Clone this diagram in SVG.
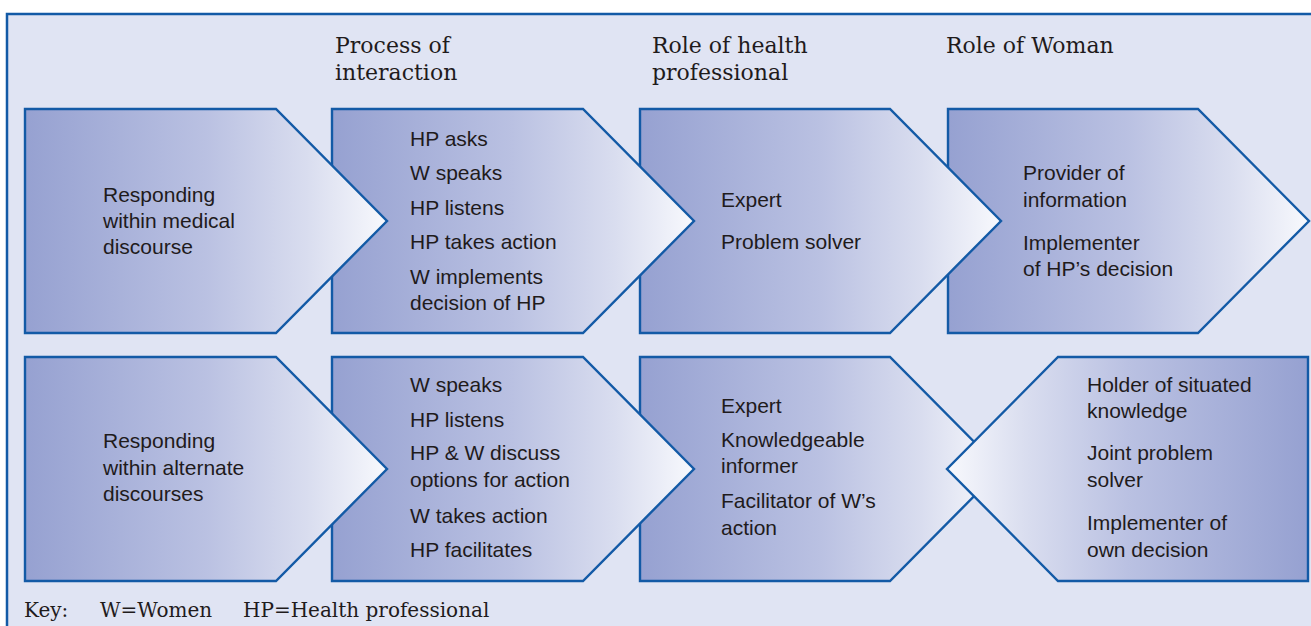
<svg xmlns="http://www.w3.org/2000/svg" width="1311" height="626" viewBox="0 0 1311 626">
  <defs>
    <!-- fill of the forward-pointing chevrons: dark on the left, pale at the tip -->
    <linearGradient id="fadeRight" x1="0" y1="0" x2="1" y2="0">
      <stop offset="0" stop-color="#96a1d1"/>
      <stop offset="0.5" stop-color="#bac1e2"/>
      <stop offset="0.78" stop-color="#d9ddef"/>
      <stop offset="1" stop-color="#f8f9fd"/>
    </linearGradient>
    <!-- fill of the backward-pointing chevron: pale at the tip, dark on the right -->
    <linearGradient id="fadeLeft" x1="1" y1="0" x2="0" y2="0">
      <stop offset="0" stop-color="#96a1d1"/>
      <stop offset="0.5" stop-color="#bac1e2"/>
      <stop offset="0.78" stop-color="#d9ddef"/>
      <stop offset="1" stop-color="#f8f9fd"/>
    </linearGradient>
    <style>
      .frame { fill: #e0e4f3; stroke: #135aa6; stroke-width: 2.5; }
      .fwd { fill: url(#fadeRight); stroke: #135aa6; stroke-width: 2.4; stroke-linejoin: miter; }
      .back { fill: url(#fadeLeft); stroke: #135aa6; stroke-width: 2.4; stroke-linejoin: miter; }
      .body { font-family: "Liberation Sans", Arial, sans-serif; font-size: 21px; fill: #1f1b1c; }
      .head { font-family: "DejaVu Serif", "Liberation Serif", serif; font-size: 22px; fill: #1f1b1c; }
      .key { font-family: "DejaVu Serif", "Liberation Serif", serif; font-size: 20px; fill: #1f1b1c; }
    </style>
  </defs>

  <rect width="1311" height="626" fill="#ffffff"/>
  <rect class="frame" x="7" y="14" width="1330" height="640"/>

  <!-- column headings -->
  <g id="headings">
    <text class="head" x="335" y="53">Process of</text>
    <text class="head" x="335" y="80">interaction</text>
    <text class="head" x="652" y="53">Role of health</text>
    <text class="head" x="652" y="80">professional</text>
    <text class="head" x="946" y="53">Role of Woman</text>
  </g>

  <!-- top row, painted right to left so each tip lies over its neighbour -->
  <g id="medical-woman-role">
    <path class="fwd" d="M948,109 H1198 L1309,221 L1198,333 H948 Z"/>
    <text class="body" x="1023" y="180">Provider of</text>
    <text class="body" x="1023" y="207">information</text>
    <text class="body" x="1023" y="250">Implementer</text>
    <text class="body" x="1023" y="276">of HP’s decision</text>
  </g>
  <g id="medical-hp-role">
    <path class="fwd" d="M640,109 H890 L1001,221 L890,333 H640 Z"/>
    <text class="body" x="721" y="207">Expert</text>
    <text class="body" x="721" y="249">Problem solver</text>
  </g>
  <g id="medical-process">
    <path class="fwd" d="M332,109 H583 L694,221 L583,333 H332 Z"/>
    <text class="body" x="410" y="146">HP asks</text>
    <text class="body" x="410" y="180">W speaks</text>
    <text class="body" x="410" y="215">HP listens</text>
    <text class="body" x="410" y="249">HP takes action</text>
    <text class="body" x="410" y="284">W implements</text>
    <text class="body" x="410" y="310">decision of HP</text>
  </g>
  <g id="medical-discourse">
    <path class="fwd" d="M25,109 H276 L387,221 L276,333 H25 Z"/>
    <text class="body" x="103" y="202">Responding</text>
    <text class="body" x="103" y="228">within medical</text>
    <text class="body" x="103" y="254">discourse</text>
  </g>

  <!-- bottom row -->
  <g id="alternate-hp-role">
    <path class="fwd" d="M640,357 H890 L1001,469 L890,581 H640 Z"/>
    <text class="body" x="721" y="413">Expert</text>
    <text class="body" x="721" y="447">Knowledgeable</text>
    <text class="body" x="721" y="473">informer</text>
    <text class="body" x="721" y="508">Facilitator of W’s</text>
    <text class="body" x="721" y="535">action</text>
  </g>
  <g id="alternate-woman-role">
    <path class="back" d="M1308,357 H1058 L947,469 L1058,581 H1308 Z"/>
    <text class="body" x="1087" y="392">Holder of situated</text>
    <text class="body" x="1087" y="418">knowledge</text>
    <text class="body" x="1087" y="460">Joint problem</text>
    <text class="body" x="1087" y="487">solver</text>
    <text class="body" x="1087" y="530">Implementer of</text>
    <text class="body" x="1087" y="557">own decision</text>
  </g>
  <g id="alternate-process">
    <path class="fwd" d="M332,357 H583 L694,469 L583,581 H332 Z"/>
    <text class="body" x="410" y="392">W speaks</text>
    <text class="body" x="410" y="427">HP listens</text>
    <text class="body" x="410" y="460">HP &amp; W discuss</text>
    <text class="body" x="410" y="487">options for action</text>
    <text class="body" x="410" y="523">W takes action</text>
    <text class="body" x="410" y="557">HP facilitates</text>
  </g>
  <g id="alternate-discourse">
    <path class="fwd" d="M25,357 H276 L387,469 L276,581 H25 Z"/>
    <text class="body" x="103" y="448">Responding</text>
    <text class="body" x="103" y="475">within alternate</text>
    <text class="body" x="103" y="501">discourses</text>
  </g>

  <!-- legend -->
  <g id="key">
    <text class="key" x="24" y="617">Key:</text>
    <text class="key" x="100" y="617">W=Women</text>
    <text class="key" x="243" y="617">HP=Health professional</text>
  </g>
</svg>
